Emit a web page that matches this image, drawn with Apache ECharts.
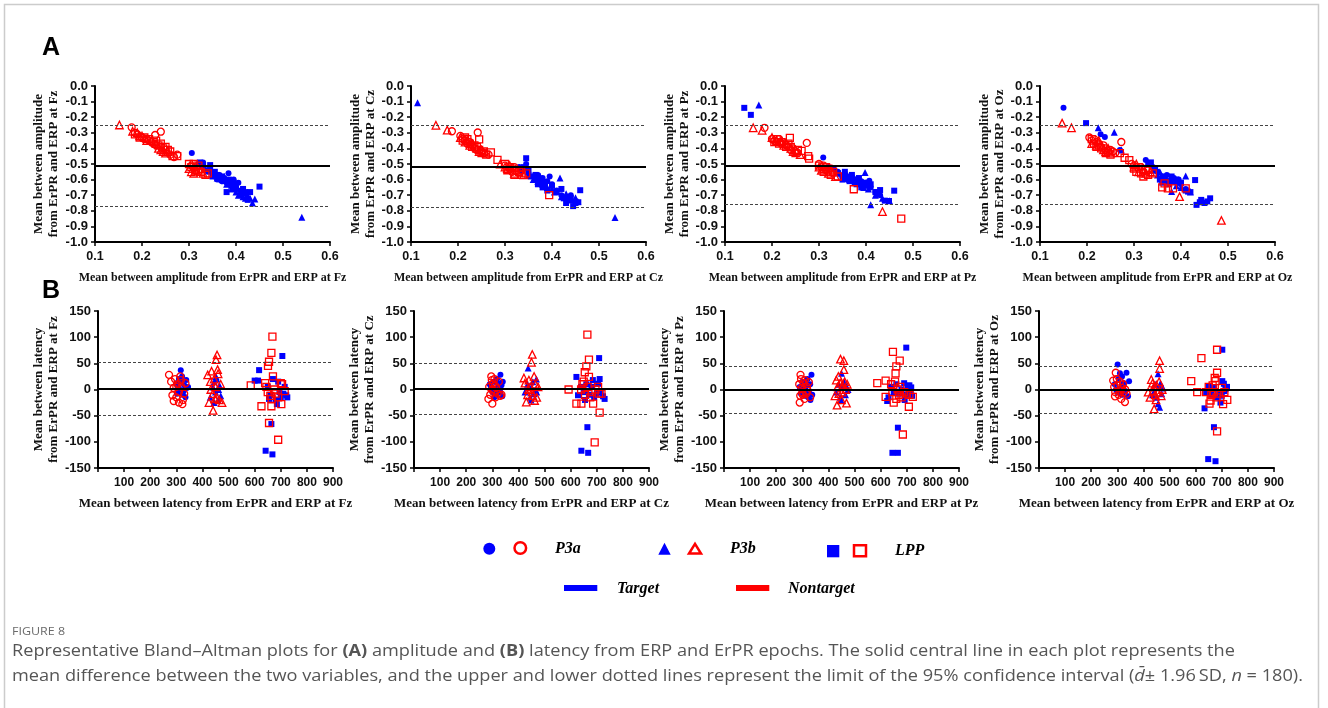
<!DOCTYPE html>
<html>
<head>
<meta charset="utf-8">
<title>Bland–Altman plots ERP vs ErPR</title>
<script src="https://cdn.jsdelivr.net/npm/echarts@6/dist/echarts.min.js"></script>
<style>
  html, body { margin: 0; padding: 0; background: #fff; }
  #chart { width: 1328px; height: 708px; }
</style>
</head>
<body>
<div id="chart"></div>
<script>
// Electrode sites, one Bland–Altman plot per site in each row
const electrodes = ['Fz', 'Cz', 'Pz', 'Oz'];
const components = ['P3a', 'P3b', 'LPP'];

// ---- Amplitude: [mean of ErPR & ERP, difference] ----
const ampFzP3aT = [[0.306,-0.43],[0.32,-0.50],[0.33,-0.52],[0.34,-0.55],[0.35,-0.56],[0.355,-0.58],[0.36,-0.60],[0.365,-0.57],[0.37,-0.61],[0.375,-0.59],[0.38,-0.62],[0.384,-0.56],[0.39,-0.63],[0.395,-0.60],[0.40,-0.64],[0.405,-0.62],[0.41,-0.67],[0.42,-0.69],[0.33,-0.49],[0.345,-0.53]];
const ampFzP3aN = [[0.178,-0.265],[0.24,-0.293],[0.228,-0.314],[0.185,-0.30],[0.19,-0.31],[0.20,-0.33],[0.205,-0.34],[0.21,-0.34],[0.215,-0.35],[0.22,-0.36],[0.225,-0.37],[0.23,-0.38],[0.24,-0.39],[0.25,-0.41],[0.26,-0.44],[0.268,-0.455],[0.275,-0.44],[0.305,-0.51],[0.31,-0.53],[0.315,-0.52],[0.32,-0.55]];
const ampFzP3bT = [[0.35,-0.57],[0.36,-0.59],[0.37,-0.60],[0.38,-0.63],[0.385,-0.61],[0.39,-0.66],[0.40,-0.68],[0.405,-0.70],[0.41,-0.68],[0.415,-0.71],[0.42,-0.72],[0.425,-0.70],[0.43,-0.72],[0.435,-0.75],[0.44,-0.725],[0.54,-0.842],[0.395,-0.64],[0.375,-0.58]];
const ampFzP3bN = [[0.152,-0.25],[0.18,-0.29],[0.19,-0.30],[0.195,-0.32],[0.20,-0.32],[0.21,-0.35],[0.22,-0.35],[0.23,-0.37],[0.235,-0.40],[0.24,-0.41],[0.245,-0.42],[0.25,-0.43],[0.255,-0.42],[0.30,-0.53],[0.305,-0.55],[0.31,-0.56],[0.315,-0.54],[0.325,-0.53],[0.33,-0.56]];
const ampFzLppT = [[0.323,-0.49],[0.33,-0.51],[0.345,-0.507],[0.34,-0.54],[0.35,-0.58],[0.355,-0.55],[0.36,-0.57],[0.37,-0.58],[0.375,-0.61],[0.38,-0.68],[0.385,-0.60],[0.39,-0.64],[0.395,-0.62],[0.40,-0.66],[0.41,-0.70],[0.415,-0.66],[0.42,-0.68],[0.425,-0.73],[0.43,-0.68],[0.45,-0.645]];
const ampFzLppN = [[0.185,-0.31],[0.195,-0.33],[0.205,-0.33],[0.215,-0.34],[0.225,-0.36],[0.23,-0.35],[0.235,-0.38],[0.24,-0.37],[0.245,-0.40],[0.25,-0.39],[0.255,-0.41],[0.26,-0.42],[0.265,-0.45],[0.275,-0.45],[0.30,-0.50],[0.305,-0.52],[0.31,-0.50],[0.315,-0.54],[0.32,-0.51],[0.325,-0.55],[0.335,-0.57],[0.34,-0.56]];

const ampCzP3aT = [[0.33,-0.52],[0.335,-0.55],[0.34,-0.53],[0.35,-0.56],[0.36,-0.58],[0.365,-0.60],[0.37,-0.57],[0.375,-0.62],[0.38,-0.59],[0.385,-0.64],[0.39,-0.61],[0.395,-0.58],[0.40,-0.63],[0.41,-0.67],[0.42,-0.70],[0.43,-0.72],[0.44,-0.70],[0.345,-0.50]];
const ampCzP3aN = [[0.187,-0.29],[0.242,-0.298],[0.205,-0.32],[0.21,-0.34],[0.215,-0.35],[0.22,-0.37],[0.225,-0.36],[0.23,-0.38],[0.235,-0.40],[0.24,-0.41],[0.25,-0.42],[0.255,-0.43],[0.265,-0.44],[0.30,-0.51],[0.31,-0.53],[0.315,-0.55],[0.32,-0.52],[0.33,-0.56],[0.335,-0.54]];
const ampCzP3bT = [[0.114,-0.108],[0.35,-0.57],[0.36,-0.60],[0.37,-0.61],[0.38,-0.63],[0.39,-0.65],[0.40,-0.66],[0.405,-0.68],[0.417,-0.59],[0.42,-0.71],[0.43,-0.69],[0.44,-0.73],[0.45,-0.717],[0.455,-0.74],[0.534,-0.843],[0.375,-0.58]];
const ampCzP3bN = [[0.153,-0.252],[0.177,-0.283],[0.205,-0.33],[0.215,-0.36],[0.22,-0.35],[0.225,-0.38],[0.23,-0.37],[0.24,-0.40],[0.245,-0.42],[0.25,-0.41],[0.26,-0.43],[0.29,-0.50],[0.30,-0.52],[0.305,-0.53],[0.31,-0.51],[0.32,-0.56],[0.325,-0.54],[0.34,-0.57]];
const ampCzLppT = [[0.345,-0.463],[0.34,-0.52],[0.35,-0.54],[0.355,-0.58],[0.365,-0.59],[0.37,-0.63],[0.375,-0.60],[0.38,-0.65],[0.385,-0.62],[0.39,-0.67],[0.40,-0.64],[0.41,-0.68],[0.42,-0.66],[0.425,-0.72],[0.43,-0.75],[0.44,-0.72],[0.445,-0.77],[0.45,-0.75],[0.456,-0.745],[0.46,-0.668],[0.365,-0.57]];
const ampCzLppN = [[0.245,-0.342],[0.27,-0.425],[0.284,-0.474],[0.394,-0.70],[0.21,-0.35],[0.215,-0.33],[0.22,-0.34],[0.225,-0.37],[0.23,-0.39],[0.235,-0.38],[0.24,-0.39],[0.245,-0.41],[0.25,-0.43],[0.255,-0.42],[0.26,-0.44],[0.30,-0.50],[0.305,-0.54],[0.31,-0.52],[0.315,-0.53],[0.32,-0.57],[0.33,-0.55],[0.335,-0.57],[0.345,-0.56]];

const ampPzP3aT = [[0.309,-0.459],[0.407,-0.607],[0.32,-0.52],[0.33,-0.53],[0.34,-0.55],[0.35,-0.58],[0.355,-0.56],[0.36,-0.60],[0.37,-0.58],[0.375,-0.62],[0.38,-0.60],[0.385,-0.63],[0.39,-0.61],[0.395,-0.64],[0.40,-0.62],[0.41,-0.65],[0.42,-0.68],[0.43,-0.70]];
const ampPzP3aN = [[0.184,-0.268],[0.274,-0.365],[0.20,-0.34],[0.205,-0.35],[0.21,-0.36],[0.215,-0.34],[0.22,-0.37],[0.225,-0.36],[0.23,-0.38],[0.235,-0.39],[0.24,-0.41],[0.245,-0.40],[0.25,-0.42],[0.255,-0.43],[0.30,-0.50],[0.305,-0.52],[0.31,-0.51],[0.315,-0.54],[0.32,-0.55],[0.33,-0.56]];
const ampPzP3bT = [[0.172,-0.121],[0.398,-0.554],[0.41,-0.762],[0.335,-0.53],[0.345,-0.56],[0.355,-0.59],[0.365,-0.60],[0.375,-0.59],[0.385,-0.62],[0.395,-0.65],[0.405,-0.66],[0.42,-0.70],[0.425,-0.69],[0.435,-0.72],[0.45,-0.735]];
const ampPzP3bN = [[0.16,-0.268],[0.179,-0.284],[0.435,-0.805],[0.20,-0.33],[0.21,-0.35],[0.22,-0.35],[0.225,-0.38],[0.23,-0.37],[0.24,-0.40],[0.245,-0.42],[0.25,-0.41],[0.26,-0.44],[0.30,-0.52],[0.305,-0.54],[0.31,-0.53],[0.32,-0.56],[0.325,-0.54],[0.335,-0.58]];
const ampPzLppT = [[0.141,-0.14],[0.155,-0.185],[0.34,-0.56],[0.35,-0.60],[0.355,-0.55],[0.36,-0.58],[0.365,-0.61],[0.37,-0.57],[0.375,-0.60],[0.38,-0.63],[0.385,-0.59],[0.39,-0.65],[0.395,-0.62],[0.40,-0.64],[0.41,-0.63],[0.42,-0.68],[0.43,-0.667],[0.44,-0.735],[0.449,-0.737],[0.46,-0.671]];
const ampPzLppN = [[0.238,-0.333],[0.263,-0.416],[0.277,-0.45],[0.279,-0.465],[0.374,-0.662],[0.475,-0.85],[0.205,-0.36],[0.21,-0.34],[0.215,-0.37],[0.22,-0.36],[0.23,-0.39],[0.235,-0.37],[0.24,-0.39],[0.25,-0.43],[0.255,-0.41],[0.30,-0.51],[0.31,-0.55],[0.315,-0.52],[0.32,-0.53],[0.325,-0.57],[0.33,-0.55],[0.34,-0.58]];

const ampOzP3aT = [[0.15,-0.14],[0.229,-0.31],[0.238,-0.327],[0.27,-0.41],[0.325,-0.475],[0.33,-0.50],[0.34,-0.52],[0.35,-0.55],[0.36,-0.58],[0.365,-0.60],[0.37,-0.57],[0.375,-0.62],[0.38,-0.60],[0.385,-0.59],[0.39,-0.62],[0.395,-0.60],[0.40,-0.63],[0.41,-0.66]];
const ampOzP3aN = [[0.273,-0.359],[0.205,-0.33],[0.21,-0.35],[0.215,-0.34],[0.22,-0.36],[0.225,-0.37],[0.23,-0.39],[0.235,-0.38],[0.24,-0.40],[0.25,-0.41],[0.255,-0.42],[0.26,-0.43],[0.295,-0.50],[0.30,-0.51],[0.31,-0.53],[0.315,-0.52],[0.32,-0.55],[0.33,-0.54]];
const ampOzP3bT = [[0.224,-0.268],[0.258,-0.297],[0.273,-0.41],[0.41,-0.577],[0.38,-0.677],[0.34,-0.54],[0.35,-0.57],[0.36,-0.59],[0.37,-0.60],[0.38,-0.61],[0.39,-0.64],[0.40,-0.65],[0.42,-0.68],[0.355,-0.55]];
const ampOzP3bN = [[0.147,-0.238],[0.167,-0.268],[0.397,-0.709],[0.486,-0.862],[0.21,-0.37],[0.22,-0.38],[0.225,-0.35],[0.235,-0.41],[0.24,-0.42],[0.245,-0.40],[0.25,-0.43],[0.30,-0.52],[0.305,-0.50],[0.31,-0.55],[0.32,-0.53],[0.325,-0.56],[0.335,-0.55]];
const ampOzLppT = [[0.198,-0.238],[0.336,-0.49],[0.43,-0.603],[0.415,-0.677],[0.433,-0.762],[0.443,-0.73],[0.456,-0.74],[0.462,-0.72],[0.45,-0.75],[0.44,-0.745],[0.345,-0.53],[0.355,-0.60],[0.36,-0.62],[0.365,-0.58],[0.37,-0.61],[0.375,-0.63],[0.38,-0.58],[0.39,-0.60],[0.40,-0.62],[0.41,-0.67],[0.42,-0.68]];
const ampOzLppN = [[0.27,-0.43],[0.28,-0.46],[0.29,-0.475],[0.31,-0.52],[0.325,-0.54],[0.365,-0.624],[0.372,-0.656],[0.383,-0.656],[0.41,-0.656],[0.21,-0.34],[0.215,-0.37],[0.22,-0.39],[0.225,-0.38],[0.23,-0.40],[0.24,-0.43],[0.245,-0.42],[0.25,-0.44],[0.30,-0.53],[0.305,-0.55],[0.315,-0.56],[0.32,-0.58],[0.33,-0.57],[0.34,-0.56],[0.36,-0.65]];

// ---- Latency (ms): [mean of ErPR & ERP, difference] ----
const latFzP3aT = [[317,37],[300,12],[305,5],[310,20],[315,-5],[320,15],[325,-10],[330,8],[335,-15],[340,3],[345,5],[312,0],[322,25],[328,-3],[338,18],[302,-8]];
const latFzP3aN = [[272,28],[323,-28],[290,-22],[285,-11],[280,15],[295,20],[300,-15],[305,10],[310,-5],[315,25],[320,5],[325,-20],[330,-8],[335,12],[300,5],[290,3],[310,-25],[318,18]];
const latFzP3bT = [[430,-15],[440,5],[445,15],[450,-5],[455,20],[460,-20],[465,8],[470,-12],[445,-25],[452,25],[462,0]];
const latFzP3bN = [[441,-40],[456,66],[452,57],[458,38],[420,28],[425,-25],[430,15],[435,35],[440,-8],[445,20],[450,5],[455,-15],[460,30],[465,-20],[470,10],[475,-25],[432,0],[448,-18]];
const latFzLppT = [[617,37],[600,17],[613,17],[706,64],[642,-117],[668,-124],[664,-66],[721,-11],[650,5],[660,-10],[670,20],[680,-20],[690,15],[695,-5],[700,-15],[710,-8],[715,5],[725,-15],[685,-28],[655,-18]];
const latFzLppN = [[668,101],[664,70],[655,53],[651,45],[670,25],[585,8],[626,-32],[664,-32],[702,-28],[655,-64],[690,-96],[645,5],[650,-5],[660,-12],[675,0],[680,-8],[690,-15],[700,12],[705,10],[715,-3],[640,12],[665,-18]];

const latCzP3aT = [[331,28],[338,-13],[290,10],[295,5],[300,-5],[305,15],[310,0],[315,-10],[320,12],[325,5],[330,-5],[335,8],[340,15],[318,20],[308,-15]];
const latCzP3aN = [[296,25],[300,-27],[285,-18],[288,5],[292,-10],[298,18],[302,10],[305,-5],[308,20],[312,-15],[315,3],[320,-8],[325,15],[330,-12],[335,-10],[300,0],[310,8]];
const latCzP3bT = [[437,41],[469,20],[425,-5],[435,10],[445,-15],[450,5],[455,15],[460,-8],[465,0],[470,-5],[448,-20]];
const latCzP3bN = [[453,67],[450,52],[421,22],[430,-24],[462,-21],[425,12],[435,-10],[440,18],[445,5],[455,-12],[460,25],[465,10],[470,-15],[475,5],[438,0],[452,-5]];
const latCzLppT = [[709,60],[622,24],[664,-72],[641,-117],[667,-121],[711,20],[705,11],[724,-13],[730,-18],[628,-11],[640,5],[650,-5],[660,10],[670,-10],[680,5],[690,-15],[700,-8],[715,-5],[685,18],[655,-20]];
const latCzLppN = [[664,105],[670,57],[660,44],[654,33],[670,24],[592,0],[622,-27],[641,-27],[686,-27],[692,-101],[711,-44],[709,-8],[718,-8],[640,0],[645,10],[650,15],[655,-10],[665,5],[675,-15],[680,-5],[695,0],[705,5]];

const latPzP3aT = [[335,28],[331,-20],[290,5],[295,-8],[300,15],[305,0],[310,-12],[315,8],[320,20],[325,-5],[330,10],[338,-10],[312,3],[322,-15]];
const latPzP3aN = [[293,28],[290,-25],[288,10],[292,-12],[295,20],[298,3],[300,-5],[305,12],[308,-18],[310,18],[315,-8],[318,5],[320,-2],[325,14],[330,-15],[302,-10]];
const latPzP3bT = [[450,31],[430,-5],[440,10],[445,-15],[455,5],[460,15],[465,-10],[470,5],[475,0],[448,-20]];
const latPzP3bN = [[446,58],[459,55],[459,38],[430,18],[433,-30],[469,-26],[425,-12],[435,5],[440,-8],[445,12],[450,-20],[455,8],[462,15],[466,0],[472,10],[438,25],[452,-5]];
const latPzLppT = [[698,80],[645,-121],[666,-121],[666,-73],[625,-22],[692,-20],[704,7],[717,4],[640,5],[650,-5],[660,10],[670,-8],[680,0],[690,12],[700,-10],[710,8],[715,-5],[720,-12],[630,-15]];
const latPzLppN = [[587,12],[619,17],[619,-14],[647,72],[673,55],[660,44],[657,31],[650,-25],[708,-33],[685,-86],[723,-14],[640,10],[645,-5],[655,15],[665,0],[670,-10],[675,5],[680,-15],[690,-5],[700,-8],[710,-10],[660,-18]];

const latOzP3aT = [[301,48],[310,31],[335,32],[341,-13],[345,16],[290,10],[295,0],[300,-5],[305,20],[315,5],[320,-10],[325,12],[330,-3],[318,25],[312,-8]];
const latOzP3aN = [[294,32],[291,-13],[329,-24],[284,17],[288,5],[292,-5],[298,20],[300,8],[305,-10],[310,15],[315,-18],[318,3],[322,10],[325,-5],[330,0],[335,-8],[308,-2]];
const latOzP3bT = [[456,30],[462,-34],[456,-27],[440,-5],[445,10],[450,-15],[460,5],[465,12],[470,-8],[475,3],[435,-10]];
const latOzP3bN = [[462,55],[462,40],[441,-37],[430,19],[418,-5],[425,-15],[435,12],[440,5],[445,-10],[450,8],[455,-5],[460,15],[468,-12],[472,0],[448,-20],[438,-2]];
const latOzLppT = [[702,76],[634,-36],[670,-72],[648,-133],[676,-137],[702,16],[708,11],[714,1],[640,-5],[650,5],[660,-10],[670,3],[680,-15],[690,-5],[700,-12],[710,-3],[720,5],[695,-25]];
const latOzLppN = [[583,16],[622,60],[606,-5],[682,76],[682,32],[673,22],[676,16],[653,-27],[657,-21],[721,-20],[705,-28],[682,-80],[640,-5],[650,5],[660,-10],[665,8],[670,-5],[680,-15],[690,-8],[700,3],[710,-5]];

// Mean difference and 95% limits of agreement (Fz, Cz, Pz, Oz)
const ampMean  = [-0.513, -0.516, -0.507, -0.507];
const ampUpper = [-0.25, -0.252, -0.253, -0.253];
const ampLower = [-0.773, -0.776, -0.758, -0.758];
const latMean  = [2, 2, 0, 0];
const latUpper = [53, 50, 45, 45];
const latLower = [-49, -47, -46, -46];

const ampX = [0.1, 0.2, 0.3, 0.4, 0.5, 0.6];
const latX = [100, 200, 300, 400, 500, 600, 700, 800, 900];

// [P3a, P3b, LPP] × [target, nontarget] for each electrode
const ampSets = [
  [[ampFzP3aT, ampFzP3aN], [ampFzP3bT, ampFzP3bN], [ampFzLppT, ampFzLppN]],
  [[ampCzP3aT, ampCzP3aN], [ampCzP3bT, ampCzP3bN], [ampCzLppT, ampCzLppN]],
  [[ampPzP3aT, ampPzP3aN], [ampPzP3bT, ampPzP3bN], [ampPzLppT, ampPzLppN]],
  [[ampOzP3aT, ampOzP3aN], [ampOzP3bT, ampOzP3bN], [ampOzLppT, ampOzLppN]]
];
const latSets = [
  [[latFzP3aT, latFzP3aN], [latFzP3bT, latFzP3bN], [latFzLppT, latFzLppN]],
  [[latCzP3aT, latCzP3aN], [latCzP3bT, latCzP3bN], [latCzLppT, latCzLppN]],
  [[latPzP3aT, latPzP3aN], [latPzP3bT, latPzP3bN], [latPzLppT, latPzLppN]],
  [[latOzP3aT, latOzP3aN], [latOzP3bT, latOzP3bN], [latOzLppT, latOzLppN]]
];

const BLUE = '#0000ff';
const RED = '#ff0000';
const SANS = '"Liberation Sans", Arial, sans-serif';
const SERIF = '"Liberation Serif", "Times New Roman", serif';
const CAPTION_FONT = '"Open Sans", "Noto Sans", sans-serif';
const symbols = ['circle', 'triangle', 'rect'];
const filledSize = [6, 7, 6];
const hollowSize = [7, 7.5, 7];

// plot frames
const ampLeft = [95, 411, 725, 1040];
const latLeft = [98, 414, 724, 1039];
const ampNameGap = [34, 32, 26, 32];
const latNameGap = [37, 35, 35, 35];
const PLOT_W = 235;

const grids = [], xAxes = [], yAxes = [], series = [];

function axisCommon() {
  return {
    axisLine: { show: true, onZero: false, lineStyle: { color: '#000', width: 2 } },
    axisTick: { show: true, inside: false, length: 4, lineStyle: { color: '#000', width: 1.5 } },
    splitLine: { show: false }
  };
}

function addPlot(idx, left, top, height, cfg) {
  grids.push({ left: left, top: top, width: PLOT_W, height: height });
  xAxes.push(Object.assign(axisCommon(), {
    gridIndex: idx, type: 'value', min: cfg.xMin, max: cfg.xMax, interval: cfg.xStep,
    name: cfg.xName, nameLocation: 'middle', nameGap: cfg.xNameGap,
    nameTextStyle: { fontFamily: SERIF, fontWeight: 'bold', fontSize: cfg.xNameSize, color: '#111' },
    axisLabel: { fontFamily: SANS, fontWeight: 'bold', fontSize: cfg.xLabelSize, color: '#111', margin: cfg.xLabelMargin,
      formatter: cfg.xFmt }
  }));
  yAxes.push(Object.assign(axisCommon(), {
    gridIndex: idx, type: 'value', min: cfg.yMin, max: cfg.yMax, interval: cfg.yStep,
    name: cfg.yName, nameLocation: 'middle', nameRotate: 90, nameGap: cfg.yNameGap,
    nameTextStyle: { fontFamily: SERIF, fontWeight: 'bold', fontSize: 13, lineHeight: 15, color: '#111' },
    axisLabel: { fontFamily: SANS, fontWeight: 'bold', fontSize: cfg.yLabelSize, color: '#111', margin: 7,
      formatter: cfg.yFmt }
  }));
  // reference lines: mean difference and limits of agreement
  series.push({
    type: 'scatter', xAxisIndex: idx, yAxisIndex: idx, data: [], silent: true,
    markLine: {
      silent: true, symbol: 'none', animation: false, label: { show: false },
      data: [
        { yAxis: cfg.upper, lineStyle: { color: '#444', width: 1, type: [3, 2] } },
        { yAxis: cfg.lower, lineStyle: { color: '#444', width: 1, type: [3, 2] } },
        { yAxis: cfg.mean, lineStyle: { color: '#000', width: 1.8, type: 'solid' } }
      ]
    }
  });
  // target (filled blue) first, nontarget (hollow red) on top
  cfg.sets.forEach((pair, c) => {
    series.push({
      type: 'scatter', xAxisIndex: idx, yAxisIndex: idx, name: components[c] + ' target',
      symbol: symbols[c], symbolSize: filledSize[c], data: pair[0],
      itemStyle: { color: BLUE, opacity: 1 }
    });
  });
  cfg.sets.forEach((pair, c) => {
    series.push({
      type: 'scatter', xAxisIndex: idx, yAxisIndex: idx, name: components[c] + ' nontarget',
      symbol: symbols[c], symbolSize: hollowSize[c], data: pair[1],
      itemStyle: { color: 'rgba(255,255,255,0)', borderColor: RED, borderWidth: 1.3, opacity: 1 }
    });
  });
}

electrodes.forEach((el, i) => {
  addPlot(i, ampLeft[i], 86, 156, {
    xMin: ampX[0], xMax: ampX[ampX.length - 1], xStep: 0.1,
    yMin: -1, yMax: 0, yStep: 0.1,
    xName: 'Mean between amplitude from ErPR and ERP at ' + el, xNameGap: 30, xNameSize: 12, xLabelMargin: 8,
    yName: 'Mean between amplitude\nfrom ErPR and ERP at ' + el, yNameGap: ampNameGap[i],
    xLabelSize: 12.5, yLabelSize: 13,
    xFmt: v => v.toFixed(1), yFmt: v => v.toFixed(1),
    mean: ampMean[i], upper: ampUpper[i], lower: ampLower[i], sets: ampSets[i]
  });
});
electrodes.forEach((el, i) => {
  addPlot(4 + i, latLeft[i], 311, 157, {
    xMin: 0, xMax: latX[latX.length - 1], xStep: 100,
    yMin: -150, yMax: 150, yStep: 50,
    xName: 'Mean between latency from ErPR and ERP at ' + el, xNameGap: 29, xNameSize: 13, xLabelMargin: 9,
    yName: 'Mean between latency\nfrom ErPR and ERP at ' + el, yNameGap: latNameGap[i],
    xLabelSize: 12, yLabelSize: 13,
    xFmt: v => (v === 0 ? '' : String(v)), yFmt: v => String(v),
    mean: latMean[i], upper: latUpper[i], lower: latLower[i], sets: latSets[i]
  });
});

// legend drawn as shapes + text
const legendFont = 'italic bold 16px ' + SERIF;
const CAP_SCALE = 1.135;
const graphics = [
  // figure frame
  { type: 'rect', shape: { x: 4.5, y: 4.5, width: 1314, height: 760 }, style: { fill: 'none', stroke: '#cccccc', lineWidth: 1.5 }, silent: true },
  { type: 'text', x: 42, y: 48, style: { text: 'A', font: 'bold 25px ' + SANS, fill: '#000', verticalAlign: 'middle' } },
  { type: 'text', x: 42, y: 291, style: { text: 'B', font: 'bold 25px ' + SANS, fill: '#000', verticalAlign: 'middle' } },

  { type: 'circle', shape: { cx: 489.3, cy: 548.7, r: 6 }, style: { fill: BLUE } },
  { type: 'circle', shape: { cx: 520.3, cy: 548, r: 5.8 }, style: { fill: 'none', stroke: RED, lineWidth: 2.5 } },
  { type: 'text', x: 555, y: 549, style: { text: 'P3a', font: legendFont, fill: '#000', verticalAlign: 'middle' } },

  { type: 'polygon', shape: { points: [[664.5, 542.7], [658.3, 554.7], [670.7, 554.7]] }, style: { fill: BLUE } },
  { type: 'polygon', shape: { points: [[695, 543.8], [689, 553.5], [701, 553.5]] }, style: { fill: 'none', stroke: RED, lineWidth: 2.5, lineJoin: 'miter' } },
  { type: 'text', x: 730, y: 549, style: { text: 'P3b', font: legendFont, fill: '#000', verticalAlign: 'middle' } },

  { type: 'rect', shape: { x: 827, y: 545, width: 12.3, height: 12.3 }, style: { fill: BLUE } },
  { type: 'rect', shape: { x: 854, y: 545.3, width: 12, height: 11 }, style: { fill: 'none', stroke: RED, lineWidth: 2.5 } },
  { type: 'text', x: 895, y: 551, style: { text: 'LPP', font: legendFont, fill: '#000', verticalAlign: 'middle' } },

  { type: 'rect', shape: { x: 564, y: 585, width: 33.3, height: 6 }, style: { fill: BLUE } },
  { type: 'text', x: 617, y: 588.5, style: { text: 'Target', font: legendFont, fill: '#000', verticalAlign: 'middle' } },
  { type: 'rect', shape: { x: 736, y: 585, width: 33.3, height: 6 }, style: { fill: RED } },
  { type: 'text', x: 788, y: 588.5, style: { text: 'Nontarget', font: legendFont, fill: '#000', verticalAlign: 'middle' } },

  // caption
  { type: 'text', x: 12, y: 632, scaleX: CAP_SCALE, style: { text: 'FIGURE 8', fontFamily: CAPTION_FONT, fontSize: 11, fill: '#6a6a6a', verticalAlign: 'middle' } },
  { type: 'text', x: 12, y: 651, scaleX: CAP_SCALE, style: {
      text: 'Representative Bland–Altman plots for {b|(A)} amplitude and {b|(B)} latency from ERP and ErPR epochs. The solid central line in each plot represents the',
      fontFamily: CAPTION_FONT, fontSize: 16, fill: '#555', verticalAlign: 'middle',
      rich: { b: { fontFamily: CAPTION_FONT, fontSize: 16, fontWeight: 'bold', fill: '#555' } } } },
  { type: 'text', x: 12, y: 676, scaleX: CAP_SCALE, style: {
      text: 'mean difference between the two variables, and the upper and lower dotted lines represent the limit of the 95% confidence interval ({i|d\u0304}\u00b1 1.96\u2009SD, {i|n} = 180).',
      fontFamily: CAPTION_FONT, fontSize: 16, fill: '#555', verticalAlign: 'middle',
      rich: { i: { fontFamily: CAPTION_FONT, fontSize: 16, fontStyle: 'italic', fill: '#555' } } } }
];

const chart = echarts.init(document.getElementById('chart'), null, { renderer: 'canvas' });
chart.setOption({
  animation: false,
  backgroundColor: '#fff',
  grid: grids,
  xAxis: xAxes,
  yAxis: yAxes,
  series: series,
  graphic: graphics
});
</script>
</body>
</html>
